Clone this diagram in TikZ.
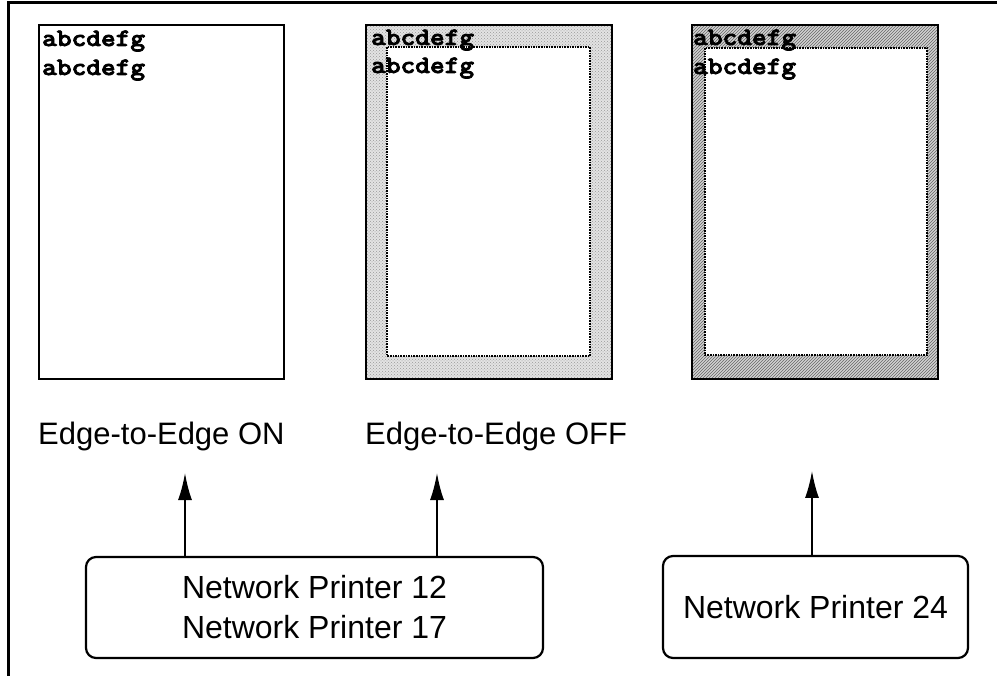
\documentclass[tikz,border=0pt]{standalone}
\usepackage{fontspec}
\setmainfont{Liberation Sans}
\newfontfamily\monob{lmmonolt10-bold.otf}[FakeBold=3,FakeStretch=1.12]
\usetikzlibrary{arrows.meta,patterns}
\begin{document}
\begin{tikzpicture}[x=1pt,y=-1pt,
  pageedge/.style={draw=black,line width=1.8pt},
  inneredge/.style={draw=black,line width=1.6pt,densely dotted},
  sample/.style={anchor=base west,inner sep=0pt,font=\monob\fontsize{25}{29}\selectfont},
  caption/.style={anchor=base west,inner sep=0pt,font=\fontsize{31}{38}\selectfont},
  printer/.style={draw=black,line width=2.2pt,rounded corners=10pt,align=center,inner sep=0pt,
    font=\fontsize{32}{40}\selectfont},
  arr/.style={line width=1.8pt,-{Latex[length=27pt,width=14pt]}}]
\useasboundingbox (0,0) rectangle (997,676);
\fill[white] (0,0) rectangle (997,676);
% outer frame
\draw[line width=3pt] (8,676) -- (8,3) -- (997,3);
% page 1: edge-to-edge on
\draw[pageedge] (39,25) rectangle (284,379);
\node[sample] (a1) at (42,46) {abcdefg};
\node[sample] (a2) at (42,75) {abcdefg};
% page 2: edge-to-edge off
\fill[gray!22] (366,25) rectangle (612,379);
\fill[pattern=crosshatch dots,pattern color=gray!80] (366,25) rectangle (612,379);
\fill[white] (387,47) rectangle (590,356);
\draw[inneredge] (387,47) rectangle (590,356);
\draw[pageedge] (366,25) rectangle (612,379);
\node[sample] (b1) at (371,45) {abcdefg};
\node[sample] (b2) at (371,73) {abcdefg};
% page 3: printer 24
\fill[gray!35] (692,25) rectangle (938,379);
\fill[pattern=north east lines,pattern color=black!60] (692,25) rectangle (938,379);
\fill[white] (705,48) rectangle (927,355);
\draw[inneredge] (705,48) rectangle (927,355);
\draw[pageedge] (692,25) rectangle (938,379);
\node[sample] (c1) at (693,45) {abcdefg};
\node[sample] (c2) at (693,74) {abcdefg};
% captions
\node[caption] (on) at (38,445) {Edge-to-Edge ON};
\node[caption] (off) at (365,445) {Edge-to-Edge OFF};
% printer boxes
\node[printer,minimum width=457pt,minimum height=101pt] (p1) at (314.5,607.5)
  {Network Printer 12\\Network Printer 17};
\node[printer,minimum width=305pt,minimum height=102pt] (p2) at (815.5,607)
  {Network Printer 24};
% arrows
\coordinate (t1) at (185,473);
\coordinate (t2) at (437,473);
\coordinate (t3) at (812,471);
\draw[arr] (p1.north -| t1) -- (t1);
\draw[arr] (p1.north -| t2) -- (t2);
\draw[arr] (p2.north -| t3) -- (t3);
\end{tikzpicture}
\end{document}
